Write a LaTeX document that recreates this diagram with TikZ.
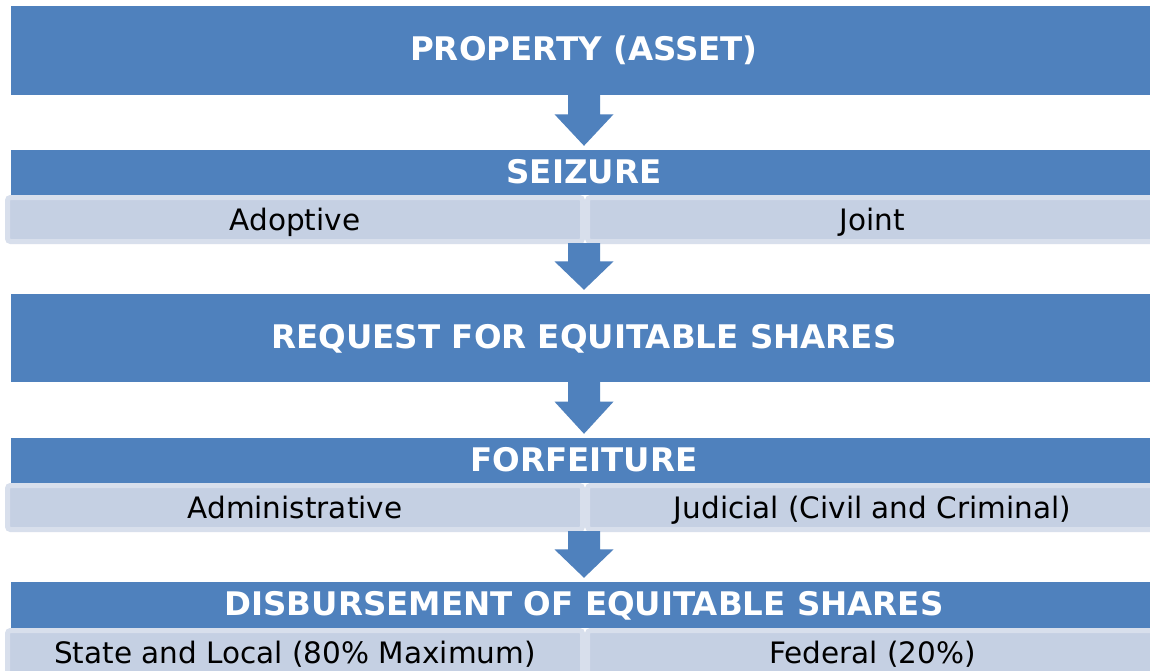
\documentclass[tikz,border=0pt]{standalone}
\usepackage{fontspec}
\setmainfont{DejaVu Sans}
\usetikzlibrary{calc}
\definecolor{hdrblue}{HTML}{4F81BD}
\definecolor{subfill}{HTML}{C5D0E3}
\definecolor{subedge}{HTML}{D8DFEC}
\tikzset{
  hdr/.style={fill=hdrblue, draw=none, inner sep=0pt, minimum width=1146pt,
    text height=21pt, text depth=0pt,
    text=white, font=\fontsize{32.5}{32.5}\selectfont\bfseries},
  subbox/.style={fill=subfill, draw=subedge, line width=5pt, rounded corners=3pt,
    inner sep=0pt, minimum height=44pt, text height=21pt, text depth=0pt,
    text=black, font=\fontsize{29.5}{29.5}\selectfont},
  flowarrow/.style={fill=hdrblue, draw=none}
}
\newcommand\downarrowshape[2]{%
  \path[flowarrow] let \p1=(#1.south), \p2=(#2.north), \n1={0.35*(\y1-\y2)} in
    (584pt,\y1+1pt) -- (600pt,\y1+1pt) -- (600pt,\y1-\n1) -- (613.5pt,\y1-\n1)
    -- (584pt,\y2+4pt) -- (554.5pt,\y1-\n1) -- (568pt,\y1-\n1) -- (568pt,\y1+1pt) -- cycle;}
\begin{document}
\begin{tikzpicture}[x=1pt,y=-1pt]
\useasboundingbox (0,0) rectangle (1150,671);
\fill[white] (0,0) rectangle (1150,671);
% Property
\node[hdr, minimum height=89pt] (prop) at (584,50.5) {PROPERTY (ASSET)};
% Seizure
\node[subbox, minimum width=575pt] (seizL) at (295,219.5) {Adoptive};
\node[subbox, minimum width=570pt] (seizR) at (872.5,219.5) {Joint};
\node[hdr, minimum height=45pt] (seiz) at (584,172.5) {SEIZURE};
% Request
\node[hdr, minimum height=88pt] (req) at (584,338) {REQUEST FOR EQUITABLE SHARES};
% Forfeiture
\node[subbox, minimum width=575pt] (forfL) at (295,507.5) {Administrative};
\node[subbox, minimum width=570pt] (forfR) at (872.5,507.5) {Judicial (Civil and Criminal)};
\node[hdr, minimum height=45pt] (forf) at (584,460.5) {FORFEITURE};
% Disbursement
\node[subbox, minimum width=575pt] (disbL) at (295,652.5) {State and Local (80\% Maximum)};
\node[subbox, minimum width=570pt] (disbR) at (872.5,652.5) {Federal (20\%)};
\node[hdr, minimum height=46pt] (disb) at (584,605) {DISBURSEMENT OF EQUITABLE SHARES};
% Arrows
\downarrowshape{prop}{seiz}
\downarrowshape{seizL}{req}
\downarrowshape{req}{forf}
\downarrowshape{forfL}{disb}
\end{tikzpicture}
\end{document}
